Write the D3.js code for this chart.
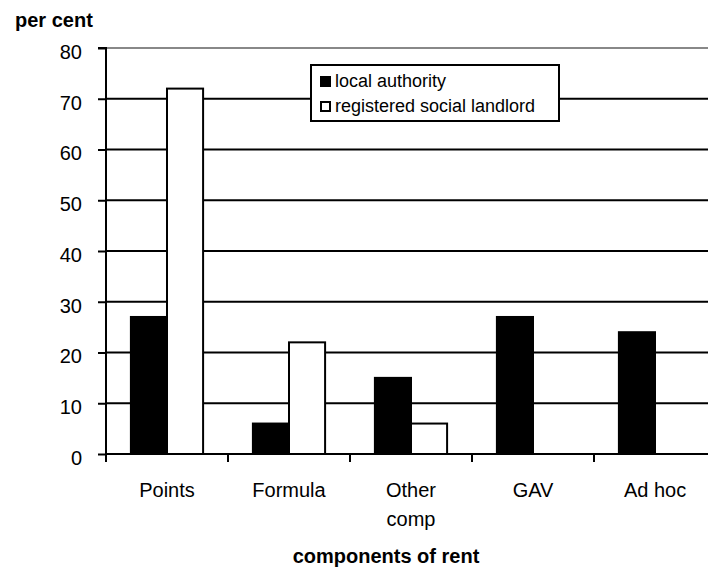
<!DOCTYPE html>
<html>
<head>
<meta charset="utf-8">
<script src="https://cdn.jsdelivr.net/npm/d3@7"></script>
<style>
  html, body { margin: 0; padding: 0; background: #fff; }
  svg { display: block; font-family: "Liberation Sans", Arial, sans-serif; }
</style>
</head>
<body>
<svg id="chart" width="708" height="575"></svg>
<script>
// Rent-setting methods by landlord type (per cent)
const categories = ["Points", "Formula", "Other comp", "GAV", "Ad hoc"];
const seriesNames = ["local authority", "registered social landlord"];
const localAuthority = [27, 6, 15, 27, 24];
const registeredSocialLandlord = [72, 22, 6, 0, 0];
const yTicks = [0, 10, 20, 30, 40, 50, 60, 70, 80];

const svg = d3.select("#chart");
const W = 708, H = 575;
const plot = { left: 106, right: 716, top: 48, bottom: 454 };

const x = d3.scaleBand().domain(categories).range([plot.left, plot.right]).padding(0);
const y = d3.scaleLinear().domain([0, 80]).range([plot.bottom, plot.top]);
const inner = d3.scaleBand().domain(seriesNames).range([0, x.bandwidth()]).paddingInner(0).paddingOuter(0.69);

// gridlines (top one drawn grey)
svg.append("g").selectAll("line").data(yTicks.filter(d => d > 0)).join("line")
  .attr("x1", plot.left).attr("x2", W)
  .attr("y1", d => y(d)).attr("y2", d => y(d))
  .attr("stroke", d => d === 80 ? "#888" : "#000")
  .attr("stroke-width", 2);

// bars
const rows = categories.map((c, i) => ({ c, vals: [localAuthority[i], registeredSocialLandlord[i]] }));
const groups = svg.append("g").selectAll("g").data(rows).join("g")
  .attr("transform", d => `translate(${x(d.c)},0)`);
groups.selectAll("rect").data(d => d.vals.map((v, k) => ({ v, s: seriesNames[k] })).filter(e => e.v > 0)).join("rect")
  .attr("x", d => inner(d.s))
  .attr("width", inner.bandwidth())
  .attr("y", d => y(d.v))
  .attr("height", d => y(0) - y(d.v))
  .attr("fill", d => d.s === seriesNames[0] ? "#000" : "#fff")
  .attr("stroke", "#000")
  .attr("stroke-width", 2);

// y axis
const yAxis = d3.axisLeft(y).tickValues(yTicks).tickSize(8).tickPadding(16);
const gy = svg.append("g").attr("transform", `translate(${plot.left},0)`).call(yAxis);
gy.select(".domain").attr("stroke-width", 2).attr("d", `M-8,${y(80)}H0V${y(0)}`);
gy.selectAll(".tick line").attr("stroke-width", 2);
gy.selectAll(".tick text").attr("font-size", 20).attr("fill", "#000").attr("dy", "0.52em")
  .attr("font-family", "Liberation Sans, Arial, sans-serif");

// x axis
const xAxis = d3.axisBottom(x).tickValues([]).tickSizeOuter(0);
const gx = svg.append("g").attr("transform", `translate(0,${y(0)})`).call(xAxis);
gx.select(".domain").attr("stroke-width", 2).attr("d", `M${plot.left},0H${W}`);
gx.selectAll("line.sep").data(categories.map(c => x(c))).join("line").attr("class", "sep")
  .attr("x1", d => d).attr("x2", d => d).attr("y1", 0).attr("y2", 8)
  .attr("stroke", "#000").attr("stroke-width", 2);

// category labels
svg.append("g").selectAll("text").data(categories).join("text")
  .attr("text-anchor", "middle")
  .attr("font-size", 20)
  .attr("fill", "#000")
  .attr("transform", d => `translate(${x(d) + x.bandwidth() / 2},${y(0) + 43})`)
  .each(function (d) {
    const words = d === "Other comp" ? ["Other", "comp"] : [d];
    d3.select(this).selectAll("tspan").data(words).join("tspan")
      .attr("x", 0).attr("dy", (w, i) => i === 0 ? 0 : 29).text(w => w);
  });

// titles
svg.append("text").attr("x", 15).attr("y", 27).attr("font-size", 20).attr("font-weight", "bold").text("per cent");
svg.append("text").attr("x", 386).attr("y", 563).attr("text-anchor", "middle")
  .attr("font-size", 20).attr("font-weight", "bold").text("components of rent");

// legend
const lg = svg.append("g").attr("transform", "translate(311,65)");
lg.append("rect").attr("width", 248).attr("height", 56).attr("fill", "#fff").attr("stroke", "#000").attr("stroke-width", 2);
const items = lg.selectAll("g").data(seriesNames).join("g")
  .attr("transform", (d, i) => `translate(0,${22 + i * 25})`);
items.append("rect").attr("x", 10).attr("y", -10).attr("width", 9).attr("height", 9)
  .attr("fill", (d, i) => i === 0 ? "#000" : "#fff").attr("stroke", "#000").attr("stroke-width", 2);
items.append("text").attr("x", 24).attr("y", 0).attr("font-size", 18).text(d => d);
</script>
</body>
</html>
